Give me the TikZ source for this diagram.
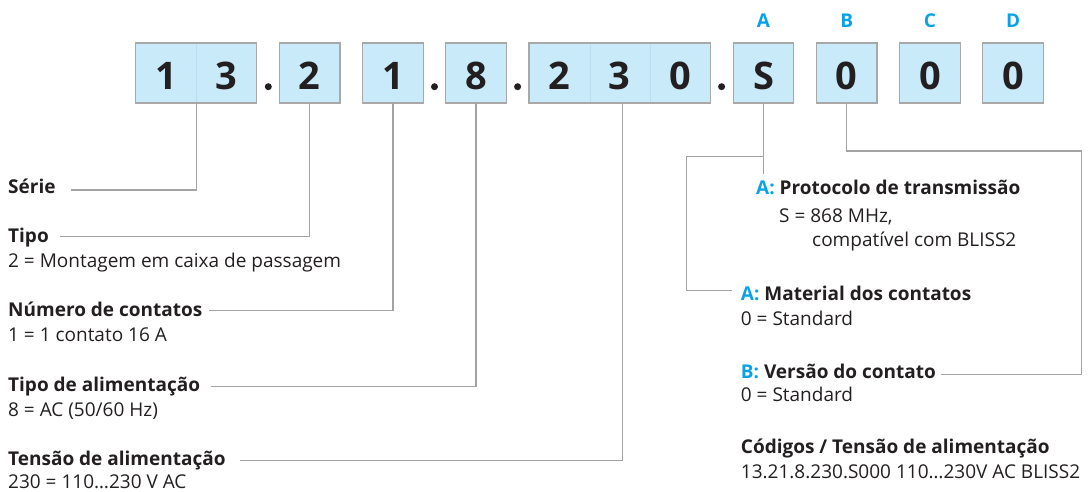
\documentclass[tikz,border=0pt]{standalone}
\usepackage{fontspec}
\setmainfont{Open Sans}
\definecolor{ink}{HTML}{231F20}
\definecolor{cellfill}{HTML}{C8EAF9}
\definecolor{cellline}{HTML}{A8A8A8}
\definecolor{divline}{HTML}{BCDDEE}
\definecolor{conn}{HTML}{A3A3A3}
\definecolor{accent}{HTML}{0AA2E6}
\begin{document}
\begin{tikzpicture}[x=1pt,y=-1pt,
  cellbox/.style={draw=cellline,line width=1.2pt,fill=cellfill,minimum height=60pt,inner sep=0pt,outer sep=0pt},
  divider/.style={draw=divline,line width=0.6pt},
  digit/.style={anchor=base,inner sep=0pt,text=ink,font=\fontsize{38}{38}\selectfont\bfseries},
  sepdot/.style={circle,fill=ink,inner sep=0pt,minimum size=7pt},
  letter/.style={anchor=base,inner sep=0pt,text=accent,font=\fontsize{19}{19}\selectfont\bfseries},
  head/.style={anchor=base west,inner sep=0pt,text=ink,font=\fontsize{19}{19}\selectfont\bfseries},
  body/.style={anchor=base west,inner sep=0pt,text=ink,font=\fontsize{19}{19}\selectfont},
  connector/.style={draw=conn,line width=1.3pt}]
\useasboundingbox (0,0) rectangle (1088,492);
% boxes
\node[cellbox,minimum width=121pt] (g13) at (196.2,73) {};
\draw[divider] ([yshift=-0.6pt]g13.north) -- ([yshift=0.6pt]g13.south);
\node[cellbox,minimum width=60.5pt] (g2) at (309.7,73) {};
\node[cellbox,minimum width=60.5pt] (g1) at (392.9,73) {};
\node[cellbox,minimum width=60.5pt] (g8) at (476.1,73) {};
\node[cellbox,minimum width=181.5pt] (g230) at (619.8,73) {};
\draw[divider] (589.8,43.6) -- (589.8,102.4);
\draw[divider] (650.5,43.6) -- (650.5,102.4);
\node[cellbox,minimum width=60.5pt] (gS) at (763.5,73) {};
\node[cellbox,minimum width=60.5pt] (gB) at (846.7,73) {};
\node[cellbox,minimum width=60.5pt] (gC) at (929.9,73) {};
\node[cellbox,minimum width=60.5pt] (gD) at (1013.1,73) {};
% digits
\node[digit] (d1) at (166.0,90) {1};
\node[digit] (d3) at (226.5,90) {3};
\node[digit] (d2) at (309.7,90) {2};
\node[digit] (d4) at (392.9,90) {1};
\node[digit] (d5) at (476.1,90) {8};
\node[digit] (d6) at (559.3,90) {2};
\node[digit] (d7) at (619.8,90) {3};
\node[digit] (d8) at (680.3,90) {0};
\node[digit] (d9) at (763.5,90) {S};
\node[digit] (d10) at (846.7,90) {0};
\node[digit] (d11) at (929.9,90) {0};
\node[digit] (d12) at (1013.1,90) {0};
% separator dots
\node[sepdot] (p1) at (268.3,86.7) {};
\node[sepdot] (p2) at (434.5,86.7) {};
\node[sepdot] (p3) at (517.6,86.7) {};
\node[sepdot] (p4) at (721.6,86.7) {};
% letters
\node[letter] (lA) at (763.5,27.7) {A};
\node[letter] (lB) at (846.7,27.7) {B};
\node[letter] (lC) at (929.9,27.7) {C};
\node[letter] (lD) at (1013.1,27.7) {D};
% left labels
\node[head] (serie) at (8,193.3) {Série};
\node[head] (tipo) at (8,243) {Tipo};
\node[body] (tipov) at (8,267.3) {2 = Montagem em caixa de passagem};
\node[head] (num) at (8,316.7) {Número de contatos};
\node[body] (numv) at (8,341.7) {1 = 1 contato 16 A};
\node[head] (tal) at (8,391.7) {Tipo de alimentação};
\node[body] (talv) at (8,416) {8 = AC (50/60 Hz)};
\node[head] (ten) at (8,465) {Tensão de alimentação};
\node[body] (tenv) at (8,488.3) {230 = 110…230 V AC};
% right labels
\node[head] (prot) at (756,195) {\textcolor{accent}{A:} Protocolo de transmissão};
\node[body] (protv) at (779,222.7) {S = 868 MHz,};
\node[body] (protw) at (812,246.7) {compatível com BLISS2};
\node[head] (mat) at (740.7,300) {\textcolor{accent}{A:} Material dos contatos};
\node[body] (matv) at (740.7,325) {0 = Standard};
\node[head] (ver) at (740.7,378.3) {\textcolor{accent}{B:} Versão do contato};
\node[body] (verv) at (740.7,401.7) {0 = Standard};
\node[head] (cod) at (740.7,453.3) {Códigos / Tensão de alimentação};
\node[body] (codv) at (740.7,478.3) {13.21.8.230.S000 110…230V AC BLISS2};
% connector ends
\coordinate (eSerie) at (71,190);
\coordinate (eTipo) at (60,236.7);
\coordinate (eNum) at (209,310.7);
\coordinate (eTal) at (211,386.7);
\coordinate (eTen) at (240,460.7);
\coordinate (eProt) at (763.5,174);
\coordinate (kS) at (763.5,156.3);
\coordinate (eMat) at (731.7,290.7);
\coordinate (kB) at (1081.7,151);
\coordinate (eVer) at (941,374.3);
% connectors
\draw[connector] (g13.south) |- (eSerie);
\draw[connector] (g2.south) |- (eTipo);
\draw[connector] (g1.south) |- (eNum);
\draw[connector] (g8.south) |- (eTal);
\draw[connector] ([xshift=2.5pt]g230.south) |- (eTen);
\draw[connector] (gS.south) -- (eProt);
\draw[connector] (kS) -| (686.7,290.7) -- (eMat);
\draw[connector] (gB.south) |- (kB) |- (eVer);
\end{tikzpicture}
\end{document}
